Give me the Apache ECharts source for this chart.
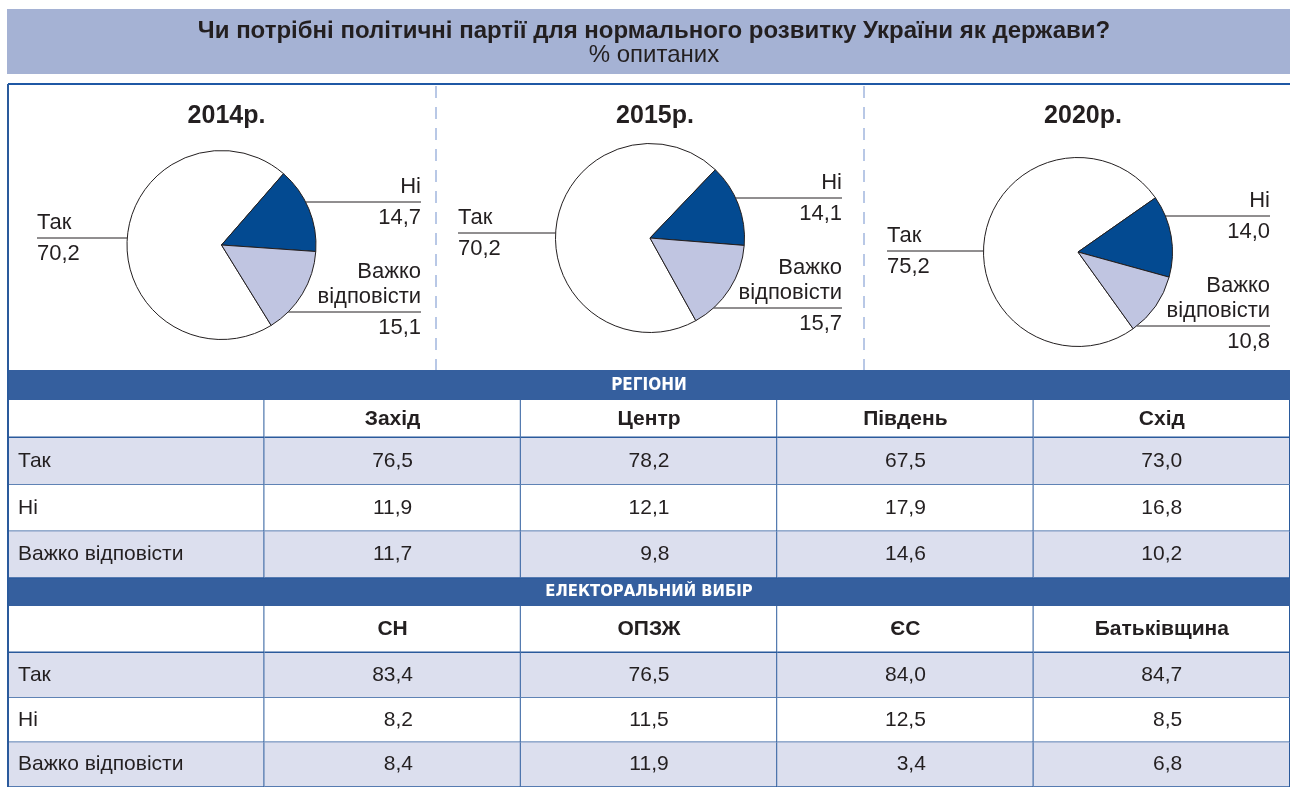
<!DOCTYPE html>
<html>
<head>
<meta charset="utf-8">
<script src="https://cdn.jsdelivr.net/npm/echarts@6/dist/echarts.min.js"></script>
<style>
  html, body { margin: 0; padding: 0; background: #fff; }
  #chart { width: 1290px; height: 787px; }
</style>
</head>
<body>
<div id="chart"></div>
<script>
// дані
var years = ['2014р.', '2015р.', '2020р.'];
var answers = ['Так', 'Ні', 'Важко відповісти'];
var pieYes = [70.2, 70.2, 75.2];
var pieNo = [14.7, 14.1, 14.0];
var pieHard = [15.1, 15.7, 10.8];

var regions = ['Захід', 'Центр', 'Південь', 'Схід'];
var regionYes = [76.5, 78.2, 67.5, 73.0];
var regionNo = [11.9, 12.1, 17.9, 16.8];
var regionHard = [11.7, 9.8, 14.6, 10.2];

var parties = ['СН', 'ОПЗЖ', 'ЄС', 'Батьківщина'];
var partyYes = [83.4, 76.5, 84.0, 84.7];
var partyNo = [8.2, 11.5, 12.5, 8.5];
var partyHard = [8.4, 11.9, 3.4, 6.8];

var TXT = '#231f20';
var BLUE = '#2a5a9c';
var BAND = '#355f9e';
var LIGHT = '#dcdfee';
var SANS = "'Liberation Sans', Arial, sans-serif";
var NARROW = "'Liberation Sans Narrow', 'Arial Narrow', 'DejaVu Sans Condensed', sans-serif";

function fmt(v) {
  var s = v.toFixed(1).replace('.', ',');
  return v < 10 ? '\u2007' + s : s;
}

// розміщення кругових діаграм (пікселі)
var pieBox = [[37, 384], [458, 384], [887, 383]];
var pieCenter = [[221.5, 245], [650, 238], [1078, 252]];
var pieR = 94.5;
var pieStart = [301.7, 299, 305.7];
var pieColors = ['#ffffff', '#034a91', '#c0c5e1'];
// вертикальний зсув виносок відносно центру кола
var leaderDy = [[-7, -43, 67], [-5, -40, 70], [-1, -36, 74]];

var myChart = echarts.init(document.getElementById('chart'));

var series = [];
var titles = [{
  text: 'Чи потрібні політичні партії для нормального розвитку України як держави?',
  subtext: '% опитаних',
  left: 649,
  textAlign: 'center',
  top: 15,
  itemGap: 0,
  textStyle: { fontFamily: SANS, fontSize: 24, fontWeight: 'bold', color: TXT, lineHeight: 23 },
  subtextStyle: { fontFamily: SANS, fontSize: 24, color: TXT, lineHeight: 23 }
}];

years.forEach(function (y, i) {
  titles.push({
    text: y,
    left: pieCenter[i][0],
    top: 97,
    textAlign: 'center',
    textStyle: { fontFamily: SANS, fontSize: 25, fontWeight: 'bold', color: TXT, lineHeight: 28 }
  });
  var box = pieBox[i];
  var cx = pieCenter[i][0], cy = pieCenter[i][1];
  series.push({
    type: 'pie',
    left: box[0],
    width: box[1],
    top: 0,
    height: 787,
    center: [((cx - box[0]) / box[1] * 100) + '%', cy],
    radius: pieR,
    startAngle: pieStart[i],
    clockwise: true,
    avoidLabelOverlap: false,
    silent: true,
    animation: false,
    itemStyle: { borderColor: TXT, borderWidth: 1 },
    label: {
      show: true,
      position: 'outside',
      alignTo: 'edge',
      edgeDistance: 0,
      fontFamily: SANS,
      fontSize: 22,
      color: TXT,
      formatter: function (p) {
        var v = p.value.toFixed(1).replace('.', ',');
        if (p.dataIndex === 2) return '{s|Важко}\n{t|відповісти}\n{t|' + v + '}';
        return '{t|' + p.name + '}\n{t|' + v + '}';
      },
      rich: {
        s: { fontFamily: SANS, fontSize: 22, color: TXT, lineHeight: 19 },
        t: { fontFamily: SANS, fontSize: 22, color: TXT, lineHeight: 31 }
      }
    },
    labelLine: { show: true, length: 0, length2: 10, smooth: false, lineStyle: { color: TXT, width: 1 } },
    labelLayout: function (p) {
      var pts = p.labelLinePoints;
      if (!pts) return {};
      var r = p.labelRect;
      var onLeft = r.x + r.width / 2 < cx;
      var d = leaderDy[i][p.dataIndex];
      var yy = cy + d;
      var xe = cx + (onLeft ? -1 : 1) * Math.sqrt(pieR * pieR - d * d);
      return {
        dy: yy - pts[0][1],
        labelLinePoints: [[xe, yy], [xe, yy], [onLeft ? r.x : r.x + r.width, yy]]
      };
    },
    data: [
      { name: answers[0], value: pieYes[i], itemStyle: { color: pieColors[0] } },
      { name: answers[1], value: pieNo[i], itemStyle: { color: pieColors[1] } },
      { name: answers[2], value: pieHard[i], itemStyle: { color: pieColors[2] }, label: { padding: [0, 0, 19, 0] } }
    ]
  });
});

// таблиці: окремо рядок заголовків і рядки зі значеннями
function headCells(cols) {
  var cells = [[0, 0, '']];
  cols.forEach(function (c, j) { cells.push([j + 1, 0, c]); });
  return cells;
}

function bodyCells(yes, no, hard) {
  var cells = [];
  [yes, no, hard].forEach(function (arr, r) {
    cells.push([0, r, answers[r]]);
    arr.forEach(function (v, j) { cells.push([j + 1, r, fmt(v)]); });
  });
  return cells;
}

function tableSeries(gridIndex, cells, isHead) {
  return {
    type: 'custom',
    xAxisIndex: gridIndex,
    yAxisIndex: gridIndex,
    silent: true,
    animation: false,
    data: cells,
    renderItem: function (params, api) {
      var cell = cells[params.dataIndex];
      var col = cell[0], row = cell[1];
      var c = api.coord([col, row]);
      var s = api.size([1, 1]);
      var x = c[0] - s[0] / 2, y = c[1] - s[1] / 2;
      var fill = (!isHead && row !== 1) ? LIGHT : '#ffffff';
      return {
        type: 'group',
        children: [
          { type: 'rect', shape: { x: x, y: y, width: s[0], height: s[1] }, style: { fill: fill } },
          { type: 'line', shape: { x1: x + s[0], y1: y, x2: x + s[0], y2: y + s[1] }, style: { stroke: BLUE, lineWidth: 2 } },
          { type: 'line', shape: { x1: x, y1: y + s[1], x2: x + s[0], y2: y + s[1] }, style: { stroke: BLUE, lineWidth: isHead ? 3 : 1.5 } },
          {
            type: 'text',
            style: {
              x: col === 0 ? x + 10 : c[0],
              y: c[1],
              text: cell[2],
              align: col === 0 ? 'left' : 'center',
              verticalAlign: 'middle',
              font: (isHead ? 'bold ' : '') + '21px ' + SANS,
              fill: TXT
            }
          }
        ]
      };
    }
  };
}

var colsA = [''].concat(regions);
var colsB = [''].concat(parties);

series.push(tableSeries(0, headCells(regions), true));
series.push(tableSeries(1, bodyCells(regionYes, regionNo, regionHard), false));
series.push(tableSeries(2, headCells(parties), true));
series.push(tableSeries(3, bodyCells(partyYes, partyNo, partyHard), false));

function hiddenAxis(data, gi, inverse) {
  return {
    type: 'category', data: data, gridIndex: gi, inverse: !!inverse,
    axisLine: { show: false }, axisTick: { show: false }, axisLabel: { show: false }, splitLine: { show: false }
  };
}

var option = {
  backgroundColor: '#ffffff',
  animation: false,
  title: titles,
  grid: [
    { left: 8, right: 0, top: 400, height: 38 },
    { left: 8, right: 0, top: 438, height: 140 },
    { left: 8, right: 0, top: 606, height: 47 },
    { left: 8, right: 0, top: 653, height: 138 }
  ],
  xAxis: [hiddenAxis(colsA, 0), hiddenAxis(colsA, 1), hiddenAxis(colsB, 2), hiddenAxis(colsB, 3)],
  yAxis: [hiddenAxis(['h'], 0), hiddenAxis(answers, 1, true), hiddenAxis(['h'], 2), hiddenAxis(answers, 3, true)],
  graphic: [
    { type: 'rect', z: -10, shape: { x: 7, y: 9, width: 1283, height: 65 }, style: { fill: '#a5b2d4' } },
    { type: 'line', shape: { x1: 8, y1: 84, x2: 1290, y2: 84 }, style: { stroke: '#1f58a5', lineWidth: 2 } },
    { type: 'line', shape: { x1: 436, y1: 86, x2: 436, y2: 370 }, style: { stroke: '#7391cd', lineWidth: 1, lineDash: [12, 9] } },
    { type: 'line', shape: { x1: 864, y1: 86, x2: 864, y2: 370 }, style: { stroke: '#7391cd', lineWidth: 1, lineDash: [12, 9] } },
    { type: 'rect', shape: { x: 8, y: 370, width: 1282, height: 30 }, style: { fill: BAND } },
    { type: 'text', style: { x: 649, y: 386, text: 'РЕГІОНИ', align: 'center', verticalAlign: 'middle', font: 'bold 17px ' + NARROW, fill: '#ffffff' } },
    { type: 'rect', shape: { x: 8, y: 578, width: 1282, height: 28 }, style: { fill: BAND } },
    { type: 'text', style: { x: 649, y: 592, text: 'ЕЛЕКТОРАЛЬНИЙ ВИБІР', align: 'center', verticalAlign: 'middle', font: 'bold 16.5px ' + NARROW, fill: '#ffffff' } },
    { type: 'line', z: 100, shape: { x1: 8, y1: 84, x2: 8, y2: 787 }, style: { stroke: BLUE, lineWidth: 2 } }
  ],
  series: series
};

myChart.setOption(option);
</script>
</body>
</html>
